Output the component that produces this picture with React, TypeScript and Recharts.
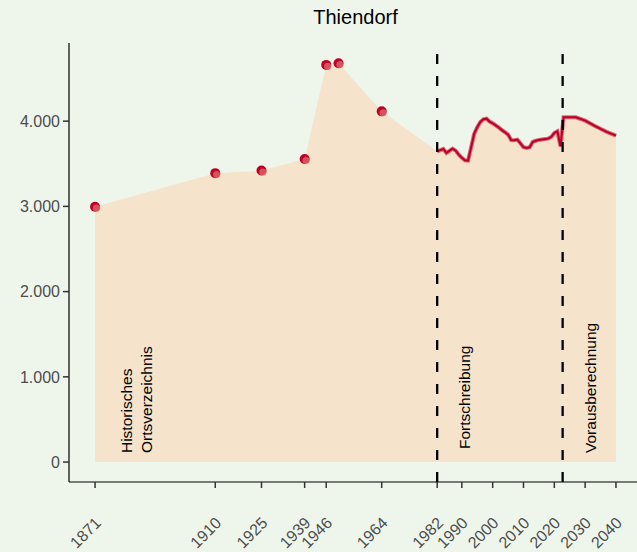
import React from "react";
import {
  ComposedChart,
  Area,
  Line,
  XAxis,
  YAxis,
  ReferenceLine,
} from "recharts";

const histYears = [1871, 1910, 1925, 1939, 1946, 1950, 1964];
const histValues = [2995, 3390, 3420, 3555, 4660, 4680, 4115];

const lineYears = [
  1982, 1984, 1985, 1987, 1988, 1989, 1990, 1991, 1992, 1993, 1994, 1995,
  1996, 1997, 1998, 1999, 2000, 2001, 2002, 2003, 2004, 2005, 2006, 2007,
  2008, 2009, 2010, 2011, 2012, 2013, 2014, 2015, 2016, 2017, 2018, 2019,
  2020, 2021, 2022, 2023, 2025, 2027, 2030, 2033, 2035, 2037, 2040,
];
const lineValues = [
  3646, 3674, 3627, 3677, 3654, 3607, 3570, 3540, 3537, 3690, 3850, 3930,
  3990, 4022, 4029, 3995, 3975, 3950, 3925, 3895, 3870, 3842, 3778, 3775,
  3783, 3740, 3695, 3686, 3693, 3756, 3770, 3780, 3785, 3790, 3795, 3815,
  3860, 3880, 3704, 4045, 4045, 4045, 4006, 3947, 3910, 3875, 3830,
];

const xTicks = [1871, 1910, 1925, 1939, 1946, 1964, 1982, 1990, 2000, 2010, 2020, 2030, 2040];
const yTicks = [0, 1000, 2000, 3000, 4000];
const breakYears = [1982, 2022.7];

const title = "Thiendorf";
const FONT = "'Liberation Sans', Arial, Helvetica, sans-serif";

type Row = { year: number; area: number; hist?: number | null; line?: number | null };
const data: Row[] = [
  ...histYears.map((y, i) => ({ year: y, area: histValues[i], hist: histValues[i], line: null })),
  ...lineYears.map((y, i) => ({ year: y, area: lineValues[i], hist: null, line: lineValues[i] })),
].sort((a, b) => a.year - b.year);

const fmt = (v: number) => (v === 0 ? "0" : v.toLocaleString("de-DE"));

const XTick = (props: any) => {
  const { x, y, payload } = props;
  const ax = x + 7;
  const ay = y + 34;
  return (
    <text
      x={ax}
      y={ay}
      transform={`rotate(-45 ${ax} ${ay})`}
      textAnchor="end"
      fill="#4D4D4D"
      fontSize={16}
      fontFamily={FONT}
    >
      {payload.value}
    </text>
  );
};

const HistDot = (props: any) => {
  const { cx, cy } = props;
  if (cx == null || cy == null || props.value == null) return <g />;
  return (
    <g>
      <circle cx={cx} cy={cy} r={5} fill="#BF0027" />
      <circle cx={cx + 1.4} cy={cy + 1.4} r={3.6} fill="#E06A70" opacity={0.75} />
    </g>
  );
};

const vText = (lines: string[], dx: number, bottom: number) => (p: any) => {
  const vb = p.viewBox || {};
  const bx = (vb.x ?? 0) + dx;
  return (
    <g>
      {lines.map((t, i) => {
        const x = bx + i * 20;
        return (
          <text
            key={i}
            x={x}
            y={bottom}
            transform={`rotate(-90 ${x} ${bottom})`}
            textAnchor="start"
            fill="#000"
            fontSize={15.5}
            fontFamily={FONT}
          >
            {t}
          </text>
        );
      })}
    </g>
  );
};

export default function App() {
  return (
    <div
      style={{
        position: "absolute",
        left: 0,
        top: 0,
        width: 637,
        height: 552,
        overflow: "hidden",
        background: "#EEF6EC",
      }}
    >
      <div
        style={{
          position: "absolute",
          left: 69,
          width: 573,
          top: 6,
          textAlign: "center",
          fontFamily: FONT,
          fontSize: 20,
          color: "#000",
        }}
      >
        {title}
      </div>
      <ComposedChart
        width={650}
        height={552}
        data={data}
        margin={{ top: 43, right: 8, left: 0, bottom: 0 }}
      >
        <XAxis
          dataKey="year"
          type="number"
          domain={[1862.55, 2048.45]}
          ticks={xTicks}
          interval={0}
          tick={<XTick />}
          tickSize={6}
          tickLine={{ stroke: "#333333", strokeWidth: 1.5 }}
          axisLine={{ stroke: "#000", strokeWidth: 1.2 }}
          height={70}
          allowDataOverflow
        />
        <YAxis
          type="number"
          domain={[-234, 4917]}
          ticks={yTicks}
          interval={0}
          tickFormatter={fmt}
          tick={{ fill: "#4D4D4D", fontSize: 16, fontFamily: FONT }}
          tickSize={6}
          tickMargin={3}
          tickLine={{ stroke: "#333333", strokeWidth: 1.5 }}
          axisLine={{ stroke: "#000", strokeWidth: 1.2 }}
          width={69}
          allowDataOverflow
        />
        <Area
          dataKey="area"
          type="linear"
          baseValue={0}
          fill="#F6E3CB"
          fillOpacity={1}
          stroke="none"
          connectNulls
          isAnimationActive={false}
          dot={false}
          activeDot={false}
        />
        <Line
          dataKey="line"
          type="linear"
          stroke="#DB6870"
          strokeWidth={4}
          dot={false}
          activeDot={false}
          isAnimationActive={false}
        />
        <Line
          dataKey="line"
          type="linear"
          stroke="#BA0029"
          strokeWidth={2}
          dot={false}
          activeDot={false}
          isAnimationActive={false}
        />
        <Line
          dataKey="hist"
          type="linear"
          stroke="none"
          dot={<HistDot />}
          activeDot={false}
          isAnimationActive={false}
        />
        {breakYears.map((b) => (
          <ReferenceLine
            key={b}
            x={b}
            stroke="#000"
            strokeWidth={2.3}
            strokeDasharray="10 12"
            ifOverflow="visible"
          />
        ))}
        <ReferenceLine
          x={1871}
          stroke="none"
          ifOverflow="visible"
          label={{ content: vText(["Historisches", "Ortsverzeichnis"], 37, 453) }}
        />
        <ReferenceLine
          x={1982}
          stroke="none"
          ifOverflow="visible"
          label={{ content: vText(["Fortschreibung"], 33, 449) }}
        />
        <ReferenceLine
          x={2022.7}
          stroke="none"
          ifOverflow="visible"
          label={{ content: vText(["Vorausberechnung"], 33, 453) }}
        />
      </ComposedChart>
    </div>
  );
}
